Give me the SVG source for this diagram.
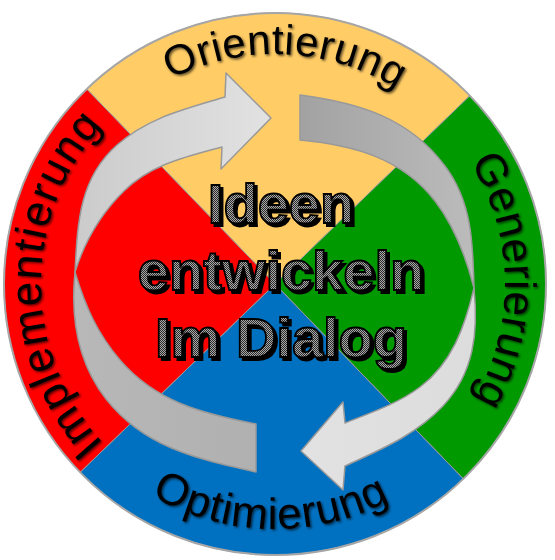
<svg xmlns="http://www.w3.org/2000/svg" width="555" height="560" viewBox="0 0 555 560">
<style>
.slice{stroke:#999;stroke-width:1}
.ring{font-family:"Liberation Sans",Arial,sans-serif;font-size:42px;fill:#000}
.arrow{stroke:#999;stroke-width:1.5;stroke-linejoin:round}
.ctr{font-family:"Liberation Sans",Arial,sans-serif;font-weight:bold;font-size:56px;text-anchor:middle}
</style>
<defs>
<filter id="soft" x="-10%" y="-10%" width="130%" height="130%">
<feDropShadow dx="1.5" dy="1.5" stdDeviation="1.3" flood-color="#000" flood-opacity="0.65"/>
</filter>
<filter id="hard" x="-5%" y="-5%" width="115%" height="120%">
<feDropShadow dx="3" dy="3" stdDeviation="0.4" flood-color="#000" flood-opacity="1"/>
</filter>
<pattern id="dots" width="2" height="2" patternUnits="userSpaceOnUse">
<rect width="2" height="2" fill="#a8a8a8"/>
<rect width="1" height="1" fill="#2a2a2a"/>
<rect x="1" y="1" width="1" height="1" fill="#2a2a2a"/>
</pattern>
<linearGradient id="lightA" gradientUnits="userSpaceOnUse" x1="75" y1="0" x2="271" y2="0">
<stop offset="0" stop-color="#cbcbcb"/><stop offset="1" stop-color="#e2e2e2"/>
</linearGradient>
<linearGradient id="darkA" gradientUnits="userSpaceOnUse" x1="72" y1="0" x2="256" y2="0">
<stop offset="0" stop-color="#b8b8b8"/><stop offset="1" stop-color="#b0b0b0"/>
</linearGradient>
<linearGradient id="darkB" gradientUnits="userSpaceOnUse" x1="300" y1="0" x2="477" y2="0">
<stop offset="0" stop-color="#a2a2a2"/><stop offset="1" stop-color="#bcbcbc"/>
</linearGradient>
<linearGradient id="lightB" gradientUnits="userSpaceOnUse" x1="300" y1="0" x2="478" y2="0">
<stop offset="0" stop-color="#e2e2e2"/><stop offset="1" stop-color="#dcdcdc"/>
</linearGradient>
<path id="pTop" d="M45,284 A230,230 0 0 1 505,284"/>
<path id="pRight" d="M275,54 A230,230 0 0 1 275,514"/>
<path id="pLeft" d="M275,518 A234,234 0 0 1 275,50"/>
<path id="pBottom" d="M30,284 A245,245 0 0 0 520,284"/>
</defs>

<g id="sector-orientierung">
<path class="slice" fill="#FFCC66" d="M275,284 L86.7,89.1 A271,271 0 0 1 469.9,95.7 Z"/>
</g>
<g id="sector-generierung">
<path class="slice" fill="#009900" d="M275,284 L469.9,95.7 A271,271 0 0 1 463.3,478.9 Z"/>
</g>
<g id="sector-optimierung">
<path class="slice" fill="#0070C0" d="M275,284 L463.3,478.9 A271,271 0 0 1 80.1,472.3 Z"/>
</g>
<g id="sector-implementierung">
<path class="slice" fill="#FF0000" d="M275,284 L80.1,472.3 A271,271 0 0 1 86.7,89.1 Z"/>
</g>
<circle cx="275" cy="284" r="271" fill="none" stroke="#a6a6a6" stroke-width="2"/>

<g id="labels" filter="url(#soft)">
<text class="ring" style="letter-spacing:0.5px"><textPath href="#pTop" startOffset="51.4%" text-anchor="middle">Orientierung</textPath></text>
<text class="ring" style="font-size:44px;letter-spacing:0.5px"><textPath href="#pRight" startOffset="49.5%" text-anchor="middle">Generierung</textPath></text>
<text class="ring" style="font-size:44px;letter-spacing:1.5px"><textPath href="#pLeft" startOffset="50%" text-anchor="middle">Implementierung</textPath></text>
<text class="ring" style="font-size:44px;letter-spacing:1px"><textPath href="#pBottom" startOffset="49.4%" text-anchor="middle">Optimierung</textPath></text>
</g>

<g id="connectors">
<path class="arrow" fill="url(#darkA)" d="M256,472 C194,458 144,447 106,399 C78,363 70.5,317 75,272 C85,305.6 97,333 120,360 C155.8,401.8 202,413.5 256,424 Z"/>
<path class="arrow" fill="url(#lightA)" d="M75,272 C77.5,222 79.5,178 117,145 C148.5,117.3 184.7,109.2 225,97 L226,73 L271,118 L221,169 L222,147 C185.3,156.9 151,164.4 124,191 C100.6,214 84.9,240.7 75,272 Z"/>
<path class="arrow" fill="url(#darkB)" d="M300,95 C359.4,102.8 409,118 445,166 C472,202 473,243 474,288 C465.75,256 455,227 435,201 C402,158.3 353.7,145 300,140 Z"/>
<path class="arrow" fill="url(#lightB)" d="M474,288 C478.5,332.8 474,373 443,406 C415.4,435.2 381.4,449.2 345,466 L343,490 L301,451 L343,402 L345,423 C371,412.6 397.6,403.8 420,387 C452,363 464.8,326.8 474,288 Z"/>
</g>

<g id="center" class="ctr" fill="url(#dots)" stroke="#000" stroke-width="1.8" filter="url(#hard)">
<text x="281" y="223">Ideen</text>
<text x="281" y="290">entwickeln</text>
<text x="281" y="357">Im Dialog</text>
</g>
</svg>
